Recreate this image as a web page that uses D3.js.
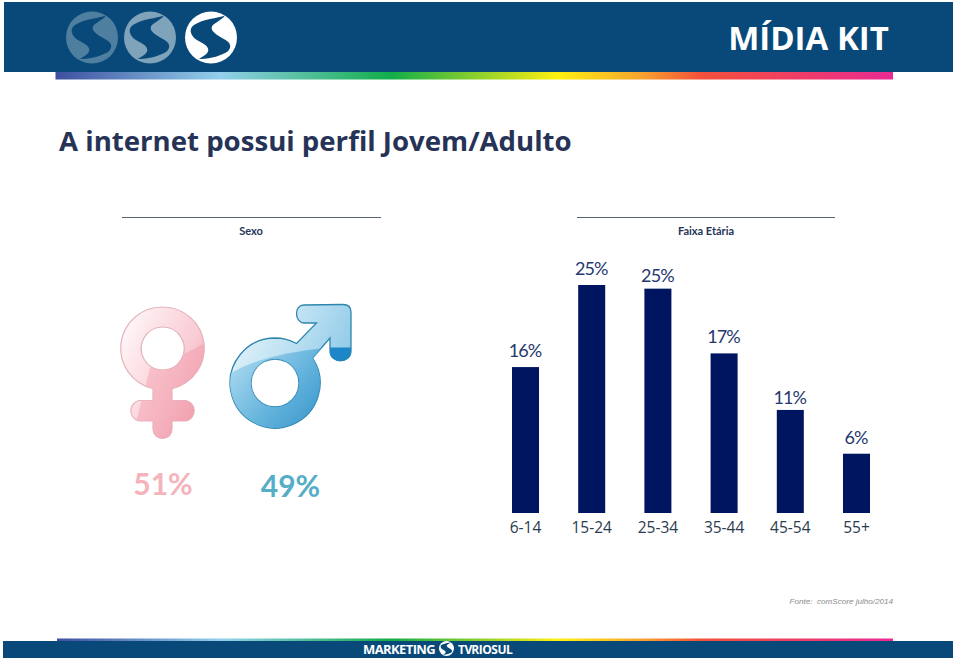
<!DOCTYPE html>
<html>
<head>
<meta charset="utf-8">
<script src="https://d3js.org/d3.v7.min.js"></script>
<style>
  html, body { margin: 0; padding: 0; background: #fff; overflow: hidden; }
</style>
</head>
<body>
<div id="my_dataviz"></div>
<script>
// data
var faixas = ["6-14", "15-24", "25-34", "35-44", "45-54", "55+"];
var faixaValues = [16, 25, 24.6, 17.5, 11.3, 6.5];
var faixaLabels = ["16%", "25%", "25%", "17%", "11%", "6%"];
var sexoLabels = ["51%", "49%"];

var stripColors = ["#3d4f9f", "#93d0ec", "#12ad4a", "#fff010", "#f6a32f", "#f4503a", "#ea2a92"];
var stripStops = [0, 0.197, 0.40, 0.60, 0.70, 0.77, 1];
var headerColor = "#08497a";

var width = 959, height = 662;

var svg = d3.select("#my_dataviz")
  .append("svg")
    .attr("width", width)
    .attr("height", height)
    .style("display", "block");

var defs = svg.append("defs");

// rainbow strips
var rainbow = defs.append("linearGradient").attr("id", "rainbow");
rainbow.selectAll("stop")
  .data(stripColors)
  .enter().append("stop")
    .attr("offset", function(d, i) { return stripStops[i]; })
    .attr("stop-color", function(d) { return d; });

function gradient(id, x1, y1, x2, y2, stops) {
  var g = defs.append("linearGradient").attr("id", id)
    .attr("x1", x1).attr("y1", y1).attr("x2", x2).attr("y2", y2);
  stops.forEach(function(s) {
    g.append("stop").attr("offset", s[0]).attr("stop-color", s[1]);
  });
}
gradient("femaleFill", 0, 0, 1, 0.7, [[0, "#ffffff"], [0.3, "#fde6ea"], [0.7, "#f9ccd4"], [1, "#f4aab7"]]);
gradient("femaleDark", 0, 0, 1, 0.6, [[0, "#f9c3cd"], [1, "#f09aaa"]]);
gradient("maleFill", 0, 0, 1, 0.5, [[0, "#eef8fc"], [0.5, "#bfe2f3"], [1, "#8cc8e6"]]);
gradient("maleDark", 0, 0, 1, 0.8, [[0, "#b4def2"], [0.6, "#5db0db"], [1, "#3293c9"]]);

// header
svg.append("rect").attr("x", 4).attr("y", 2).attr("width", 949).attr("height", 70).attr("fill", headerColor);
svg.append("rect").attr("x", 55.5).attr("y", 72).attr("width", 837.5).attr("height", 7.5).attr("fill", "url(#rainbow)");

var logoS = "M42,-66 C20,-58 -25,-55 -50,-38 C-65,-28 -65,-12 -48,4 C-30,17 -8,22 -8,38 C-10,50 -25,58 -38,64 C-5,66 30,55 50,42 C62,30 60,18 45,8 C25,-5 0,-15 2,-31 C5,-42 30,-50 42,-66 Z";

function logo(g, cx, cy, r, fill) {
  var k = r / 78;
  g.append("circle").attr("cx", cx).attr("cy", cy).attr("r", r).attr("fill", fill);
  g.append("path")
    .attr("transform", "translate(" + cx + "," + cy + ") scale(" + k + ")")
    .attr("d", logoS)
    .attr("fill", headerColor);
}
logo(svg, 92, 37.5, 26, "#4f7f9f");
logo(svg, 150, 37.5, 26, "#7ea3ba");
logo(svg, 211, 37.5, 26, "#ffffff");

svg.append("text")
  .attr("x", 808.5).attr("y", 50)
  .attr("text-anchor", "middle")
  .attr("fill", "#fff")
  .style("font", "bold 33px 'Open Sans'")
  .text("MÍDIA KIT");

// title
svg.append("text")
  .attr("x", 59).attr("y", 151)
  .attr("fill", "#263356")
  .style("font", "bold 27.6px 'Open Sans'")
  .text("A internet possui perfil Jovem/Adulto");

// section headers
[[122, 381, 251, "Sexo"], [577, 835, 706, "Faixa Etária"]].forEach(function(h) {
  svg.append("line")
    .attr("x1", h[0]).attr("x2", h[1]).attr("y1", 217.5).attr("y2", 217.5)
    .attr("stroke", "#5a6472").attr("stroke-width", 1);
  svg.append("text")
    .attr("x", h[2]).attr("y", 234.5)
    .attr("text-anchor", "middle")
    .attr("fill", "#25345a")
    .style("font", "bold 11px Lato")
    .text(h[3]);
});

// female symbol
var female = "M162.7,307 A41.3,41.3 0 0 1 172,388.6 L172,400.5 L186,400.5 A10.5,10.5 0 0 1 186,421 L172,421 L172,429 A9.5,9.5 0 0 1 153,429 L153,421 L139,421 A10.5,10.5 0 0 1 139,400.5 L153,400.5 L153,388.6 A41.3,41.3 0 0 1 162.7,307 Z "
  + "M162.7,327 A21.5,21.5 0 1 0 162.701,327 Z";
defs.append("clipPath").attr("id", "femaleClip").append("path").attr("clip-rule", "evenodd").attr("d", female);
svg.append("path").attr("d", female).attr("fill-rule", "evenodd").attr("fill", "url(#femaleFill)")
  .attr("stroke", "#e3b4bd").attr("stroke-width", 1.2);
svg.append("path").attr("clip-path", "url(#femaleClip)")
  .attr("d", "M150,368 C170,360 190,352 210,340 L210,445 L130,445 Z")
  .attr("fill", "url(#femaleDark)").attr("opacity", 0.75);

// male symbol
var male = "M275,338 A45,45 0 0 1 296.5,343.5 L316.5,323 L304,323 C294,322 294,305 304,305 L343,304.5 C349,304.5 351,308 351,312 L351,351 C351,364 330,364 330,351 L330,338 L312.5,358 A45,45 0 1 1 275,338 Z "
  + "M275,359 A24,24 0 1 0 275.001,359 Z";
defs.append("clipPath").attr("id", "maleClip").append("path").attr("clip-rule", "evenodd").attr("d", male);
svg.append("path").attr("d", male).attr("fill-rule", "evenodd").attr("fill", "url(#maleFill)")
  .attr("stroke", "#2f86ad").attr("stroke-width", 1.3);
svg.append("path").attr("clip-path", "url(#maleClip)")
  .attr("d", "M228,375 C255,358 290,352 325,348 L325,432 L228,432 Z")
  .attr("fill", "url(#maleDark)").attr("opacity", 0.9);
svg.append("rect").attr("clip-path", "url(#maleClip)")
  .attr("x", 329).attr("y", 347.5).attr("width", 24).attr("height", 16).attr("fill", "#1c86c6");

// sexo percentages
var sexoColors = ["#f5b3bb", "#56aec6"];
svg.selectAll(".sexo")
  .data(sexoLabels)
  .enter().append("text")
    .attr("class", "sexo")
    .attr("x", function(d, i) { return i === 0 ? 163 : 290.5; })
    .attr("y", function(d, i) { return i === 0 ? 495 : 496.5; })
    .attr("text-anchor", "middle")
    .attr("fill", function(d, i) { return sexoColors[i]; })
    .style("font", "bold 30px Lato")
    .text(function(d) { return d; });

// faixa etaria bars
var barBottom = 513;
var x = d3.scaleBand()
  .domain(faixas)
  .range([492.4, 889.6])
  .paddingInner(0.592)
  .paddingOuter(0.296);

var y = d3.scaleLinear()
  .domain([0, 25])
  .range([barBottom, 285]);

svg.selectAll(".bar")
  .data(faixaValues)
  .enter().append("rect")
    .attr("class", "bar")
    .attr("x", function(d, i) { return x(faixas[i]); })
    .attr("y", function(d) { return y(d); })
    .attr("width", x.bandwidth())
    .attr("height", function(d) { return barBottom - y(d); })
    .attr("fill", "#00155f");

// labels do not sit at the same distance above every bar
var labelGap = [10, 10, 7, 10, 6, 10];
svg.selectAll(".barLabel")
  .data(faixaValues)
  .enter().append("text")
    .attr("class", "barLabel")
    .attr("x", function(d, i) { return x(faixas[i]) + x.bandwidth() / 2 - 0.5; })
    .attr("y", function(d, i) { return y(d) - labelGap[i]; })
    .attr("text-anchor", "middle")
    .attr("fill", "#26386f")
    .style("font", "18px Lato")
    .style("letter-spacing", "-0.9px")
    .text(function(d, i) { return faixaLabels[i]; });

var xAxis = svg.append("g")
  .attr("transform", "translate(0," + barBottom + ")")
  .call(d3.axisBottom(x).tickSize(0).tickPadding(9));
xAxis.select(".domain").remove();
xAxis.selectAll("text")
  .attr("fill", "#2c3b4d")
  .style("font", "15.5px 'Open Sans'");

// source
svg.append("text")
  .attr("x", 893).attr("y", 604)
  .attr("text-anchor", "end")
  .attr("fill", "#8a8a8a")
  .style("font", "italic 8.1px 'Liberation Sans'")
  .style("white-space", "pre")
  .text("Fonte:  comScore julho/2014");

// footer
svg.append("rect").attr("x", 3).attr("y", 641).attr("width", 950).attr("height", 17).attr("fill", headerColor);
svg.append("rect").attr("x", 57).attr("y", 638.5).attr("width", 836).attr("height", 2.5).attr("fill", "url(#rainbow)");
svg.append("text")
  .attr("x", 363).attr("y", 653.5)
  .attr("fill", "#fff")
  .style("font", "bold 13px 'Open Sans'")
  .style("letter-spacing", "-0.6px")
  .text("MARKETING");
logo(svg, 446.5, 648.5, 7.5, "#ffffff");
svg.append("text")
  .attr("x", 458).attr("y", 653.5)
  .attr("fill", "#fff")
  .style("font", "bold 12px 'Open Sans'")
  .style("letter-spacing", "-0.5px")
  .style("word-spacing", "-3px")
  .text("TV RIOSUL");
</script>
</body>
</html>
